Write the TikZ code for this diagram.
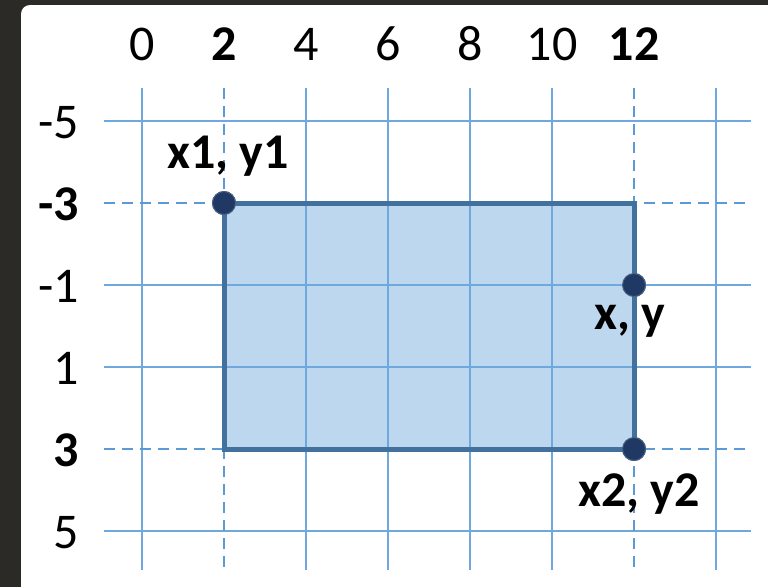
\documentclass[tikz,border=0pt]{standalone}
\usepackage{fontspec}
\setmainfont{Carlito}
\definecolor{bgdark}{HTML}{2B2A27}
\definecolor{gridblue}{HTML}{6FA8DC}
\definecolor{dashblue}{HTML}{5B9BD5}
\definecolor{rectfill}{HTML}{BDD7EE}
\definecolor{rectedge}{HTML}{41719C}
\definecolor{dotblue}{HTML}{1F3864}
\tikzset{
  gridline/.style={draw=gridblue, line width=1.6pt},
  dashline/.style={draw=dashblue, line width=2.6pt, dash pattern=on 11pt off 7pt},
  axislabel/.style={inner sep=0pt, font=\fontsize{50}{50}\selectfont},
  ptlabel/.style={inner sep=0pt, font=\fontsize{50}{50}\selectfont\bfseries},
  dot/.style={circle, fill=dotblue, draw=dotblue!80, line width=1pt, minimum size=23pt, inner sep=0pt}
}
\begin{document}
\begin{tikzpicture}[x=1pt,y=-1pt]
\useasboundingbox (0,0) rectangle (768,587);
\fill[bgdark] (0,0) rectangle (768,587);
\fill[white, rounded corners=9pt] (21,5) rectangle (790,610);
% coordinates of grid
\foreach \i/\x in {0/142,1/224,2/306,3/388,4/470,5/552,6/634,7/716} {
  \coordinate (vt\i) at (\x,88);
  \coordinate (vb\i) at (\x,570);
}
\foreach \j/\y in {0/121,1/203,2/285,3/367,4/449,5/531} {
  \coordinate (hl\j) at (104,\y);
  \coordinate (hr\j) at (751,\y);
}
% points
\node[dot] (p1) at (224,203) {};
\node[dot] (p2) at (634,449) {};
\node[dot] (pxy) at (634,285) {};
% rectangle fill
\fill[rectfill] (p1.center) rectangle (p2.center);
% solid grid
\foreach \i in {0,2,3,4,5,7} { \draw[gridline] (vt\i) -- (vb\i); }
\foreach \j in {0,2,3,5} { \draw[gridline] (hl\j) -- (hr\j); }
% dashed
\foreach \i in {1,6} { \draw[dashline] (vt\i) -- (vb\i); }
\foreach \j in {1,4} { \draw[dashline] (hl\j) -- (hr\j); }
% border
\draw[rectedge, line width=5pt] (p1.center) rectangle (p2.center);
% dots on top
\node[dot] at (p1) {};
\node[dot] at (p2) {};
\node[dot] at (pxy) {};
% axis labels top
\node[axislabel, anchor=base] (tx0) at (142,60) {0};
\node[axislabel, anchor=base] (tx2) at (224,60) {\bfseries 2};
\node[axislabel, anchor=base] (tx4) at (306,60) {4};
\node[axislabel, anchor=base] (tx6) at (388,60) {6};
\node[axislabel, anchor=base] (tx8) at (470,60) {8};
\node[axislabel, anchor=base] (tx10) at (552,60) {10};
\node[axislabel, anchor=base] (tx12) at (634,60) {\bfseries 12};
% axis labels left
\node[axislabel, anchor=base east] (ly0) at (79,138) {-5};
\node[axislabel, anchor=base east] (ly1) at (79,220) {\bfseries -3};
\node[axislabel, anchor=base east] (ly2) at (79,302) {-1};
\node[axislabel, anchor=base east] (ly3) at (79,384) {1};
\node[axislabel, anchor=base east] (ly4) at (79,466) {\bfseries 3};
\node[axislabel, anchor=base east] (ly5) at (79,548) {5};
% point labels
\node[ptlabel, anchor=base] (l1) at (228,168) {x1, y1};
\node[ptlabel, anchor=base] (lxy) at (630,329) {x, y};
\node[ptlabel, anchor=base] (l2) at (639,506) {x2, y2};
\end{tikzpicture}
\end{document}
